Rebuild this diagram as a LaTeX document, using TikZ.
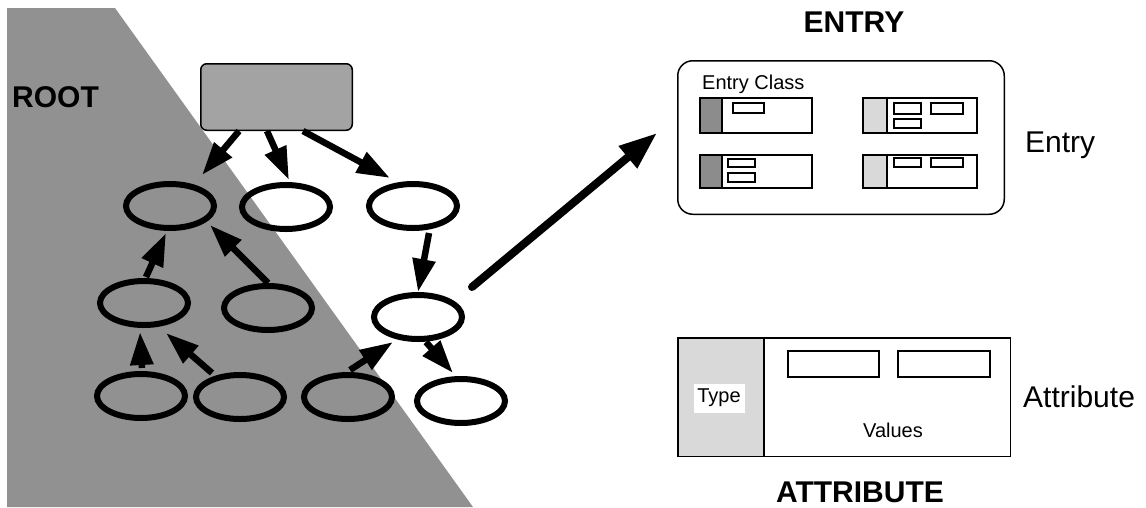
\documentclass[tikz,border=0pt]{standalone}
\usepackage{fontspec}
\setmainfont{Liberation Sans}
\usetikzlibrary{arrows.meta,shapes.geometric}

\tikzset{
  tree node/.style={ellipse, draw, line width=6pt, minimum width=88pt,
    minimum height=44pt, inner sep=0pt},
  link/.style={line width=6.5pt, -{Triangle[length=33pt,width=22pt]}},
  biglink/.style={line width=8pt, line cap=round, -{Triangle[length=38pt,width=27pt]}},
  rootbox/.style={draw, line width=1.5pt, rounded corners=6pt, fill=black!36,
    minimum width=151.5pt, minimum height=66.5pt, inner sep=0pt},
  framebox/.style={draw, line width=1.5pt, inner sep=0pt},
  slot/.style={draw, line width=1.3pt},
  darkcell/.style={fill=black!45},
  lightcell/.style={fill=black!15},
  big text/.style={font=\fontsize{30}{36}\selectfont},
  big bold/.style={font=\bfseries\fontsize{30}{36}\selectfont},
  small text/.style={font=\fontsize{20}{24}\selectfont, inner sep=0pt},
}

\begin{document}
\begin{tikzpicture}[x=1pt, y=-1pt]
\useasboundingbox (0,0) rectangle (1146,507);

% shaded region behind the root side of the tree
\fill[black!43] (7,8) -- (115,8) -- (473,507) -- (7,507) -- cycle;
\node[big bold, anchor=base west, inner sep=0pt] (roottext) at (12,107) {ROOT};

% directory tree
\node[rootbox] (root) at (276.5,97) {};
\node[tree node] (e1)  at (170,206) {};
\node[tree node] (e2)  at (286,207) {};
\node[tree node] (e3)  at (413,206) {};
\node[tree node] (e4)  at (144,303) {};
\node[tree node] (e5)  at (268,308) {};
\node[tree node] (e6)  at (418,317) {};
\node[tree node] (e7)  at (141,396) {};
\node[tree node] (e8)  at (240,397) {};
\node[tree node] (e9)  at (348,397) {};
\node[tree node] (e10) at (461,401) {};

\draw[link] ([shift={(-37.5,0)}]root.south) -- ([shift={(32,-31)}]e1.center);
\draw[link] ([shift={(-9.5,0)}]root.south)  -- ([shift={(3,-27)}]e2.center);
\draw[link] ([shift={(26.5,0)}]root.south)  -- ([shift={(-23,-28)}]e3.center);
\draw[link] ([shift={(16,27)}]e3.center)    -- ([shift={(0,-25)}]e6.center);
\draw[link] ([shift={(2,-26)}]e4.center)    -- ([shift={(-4,27)}]e1.center);
\draw[link] ([shift={(0,-25)}]e5.center)    -- ([shift={(40,19)}]e1.center);
\draw[link] ([shift={(1,-28)}]e7.center)    -- ([shift={(-4,29)}]e4.center);
\draw[link] ([shift={(-28,-24)}]e8.center)  -- ([shift={(22,30)}]e4.center);
\draw[link] ([shift={(2,-27)}]e9.center)    -- ([shift={(-25,25)}]e6.center);
\draw[link] ([shift={(8,25)}]e6.center)     -- ([shift={(-8,-28)}]e10.center);

% entry
\node[big bold, anchor=base, inner sep=0pt] (entrytitle) at (854,32) {ENTRY};
\node[framebox, rounded corners=15pt, minimum width=326.5pt, minimum height=153.5pt]
  (entrybox) at (841,137.5) {};
\node[small text, anchor=base west] (classtext) at (702,89) {Entry Class};
\node[big text, anchor=base west, inner sep=0pt] (entrytext) at (1025,152) {Entry};

\draw[biglink] ([shift={(54,-30)}]e6.center) -- ([shift={(-20,-4.5)}]entrybox.west);

% attribute rows inside the entry
\fill[darkcell]  (700,98)  rectangle (722,133);
\fill[lightcell] (863,98)  rectangle (887,133);
\fill[darkcell]  (700,155) rectangle (722,188);
\fill[lightcell] (863,155) rectangle (887,188);
\draw[slot] (700,98) rectangle (812,133) (722,98) -- (722,133);
\draw[slot] (863,98) rectangle (977,133) (887,98) -- (887,133);
\draw[slot] (700,155) rectangle (812,188) (722,155) -- (722,188);
\draw[slot] (863,155) rectangle (977,188) (887,155) -- (887,188);
\draw[slot] (733,103) rectangle (764,113);
\draw[slot] (894,103) rectangle (921,114) (931,103) rectangle (963,114)
            (894,119) rectangle (921,128);
\draw[slot] (728,159) rectangle (755,167) (728,173) rectangle (755,182);
\draw[slot] (894,158) rectangle (921,167) (931,158) rectangle (963,167);

% attribute
\fill[lightcell] (677,337) rectangle (764,457);
\node[framebox, minimum width=332.5pt, minimum height=118.5pt] (attrbox) at (844,397) {};
\draw[line width=1.5pt] (764,337) -- (764,457);
\draw[line width=1.6pt] (788,351) rectangle (879,377) (898,351) rectangle (990,377);
\node[small text, fill=white, minimum width=51pt, minimum height=29pt] (typetext) at (719,398) {Type};
\node[small text] (valuestext) at (893,430) {Values};
\node[big text, anchor=base west, inner sep=0pt] (attrtext) at (1023,407) {Attribute};
\node[big bold, anchor=base, inner sep=0pt] (attrtitle) at (860,502) {ATTRIBUTE};
\end{tikzpicture}
\end{document}
